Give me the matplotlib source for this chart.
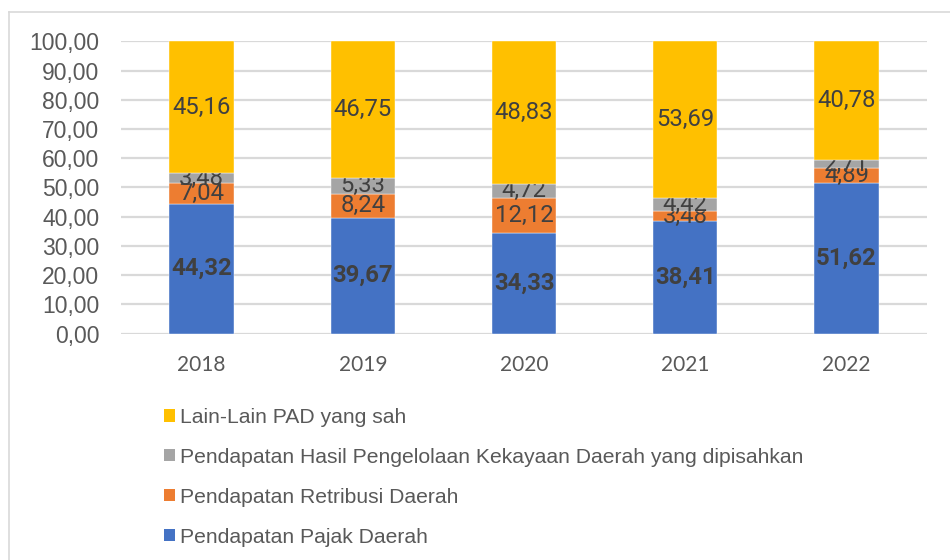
import matplotlib
matplotlib.use('Agg')
import matplotlib.pyplot as plt
from matplotlib.patches import Patch
from matplotlib.lines import Line2D
import numpy as np

years = ['2018', '2019', '2020', '2021', '2022']
pajak = [44.32, 39.67, 34.33, 38.41, 51.62]
retribusi = [7.04, 8.24, 12.12, 3.48, 4.89]
kekayaan = [3.48, 5.33, 4.72, 4.42, 2.71]
lainlain = [45.16, 46.75, 48.83, 53.69, 40.78]
series_names = ['Pendapatan Pajak Daerah',
                'Pendapatan Retribusi Daerah',
                'Pendapatan Hasil Pengelolaan Kekayaan Daerah yang dipisahkan',
                'Lain-Lain PAD yang sah']
yticks = [0, 10, 20, 30, 40, 50, 60, 70, 80, 90, 100]

colors = ['#4472C4', '#ED7D31', '#A5A5A5', '#FFC000']
plt.rcParams['font.family'] = ['Liberation Sans', 'DejaVu Sans']

def fmt(v):
    return f"{v:.2f}".replace('.', ',')

fig = plt.figure(figsize=(9.5, 5.6), dpi=100)
W, H = 950, 560
ax = fig.add_axes([121 / W, 1 - 333.5 / H, 806 / W, 292.2 / H])

x = np.arange(len(years))
bottom = np.zeros(len(years))
for i, vals in enumerate([pajak, retribusi, kekayaan, lainlain]):
    bars = ax.bar(x, vals, 0.4, bottom=bottom, color=colors[i], zorder=3,
                  edgecolor='white', linewidth=0.3)
    ax.bar_label(bars, labels=[fmt(v) for v in vals], label_type='center',
                 fontsize=17.2, color='#404040', family=['Roboto', 'DejaVu Sans'],
                 fontweight='bold' if i == 0 else 'normal')
    bottom += np.array(vals)

ax.set_xlim(-0.5, len(years) - 0.5)
ax.set_ylim(0, 100)
ax.set_yticks(yticks)
ax.set_yticklabels([fmt(v) for v in yticks], fontsize=16.5, color='#595959')
ax.set_xticks(x)
ax.set_xticklabels(years, fontsize=15, color='#595959', family=['Lato', 'DejaVu Sans'])
ax.tick_params(axis='y', length=0, pad=15.5)
ax.tick_params(axis='x', length=0, pad=15.5)
ax.grid(axis='y', color='#D9D9D9', linewidth=1.6, zorder=0)
for s in ax.spines.values():
    s.set_visible(False)

# outer chart border
fig.add_artist(Line2D([9 / W, 9 / W], [0, 1 - 12 / H], transform=fig.transFigure,
                      color='#D9D9D9', linewidth=1.2))
fig.add_artist(Line2D([9 / W, 1], [1 - 12 / H, 1 - 12 / H], transform=fig.transFigure,
                      color='#D9D9D9', linewidth=1.2))

handles = [Patch(facecolor=colors[i], label=series_names[i]) for i in range(4)][::-1]
fig.legend(handles=handles, loc='upper left', bbox_to_anchor=(164 / W, 1 - 408 / H),
           frameon=False, handlelength=0.5, handleheight=0.5,
           handletextpad=0.25, labelspacing=0.99, borderpad=0, borderaxespad=0,
           labelcolor='#595959',
           prop={'family': ['Liberation Sans', 'DejaVu Sans'], 'size': 15.2})

fig.savefig('out.png', dpi=100)
